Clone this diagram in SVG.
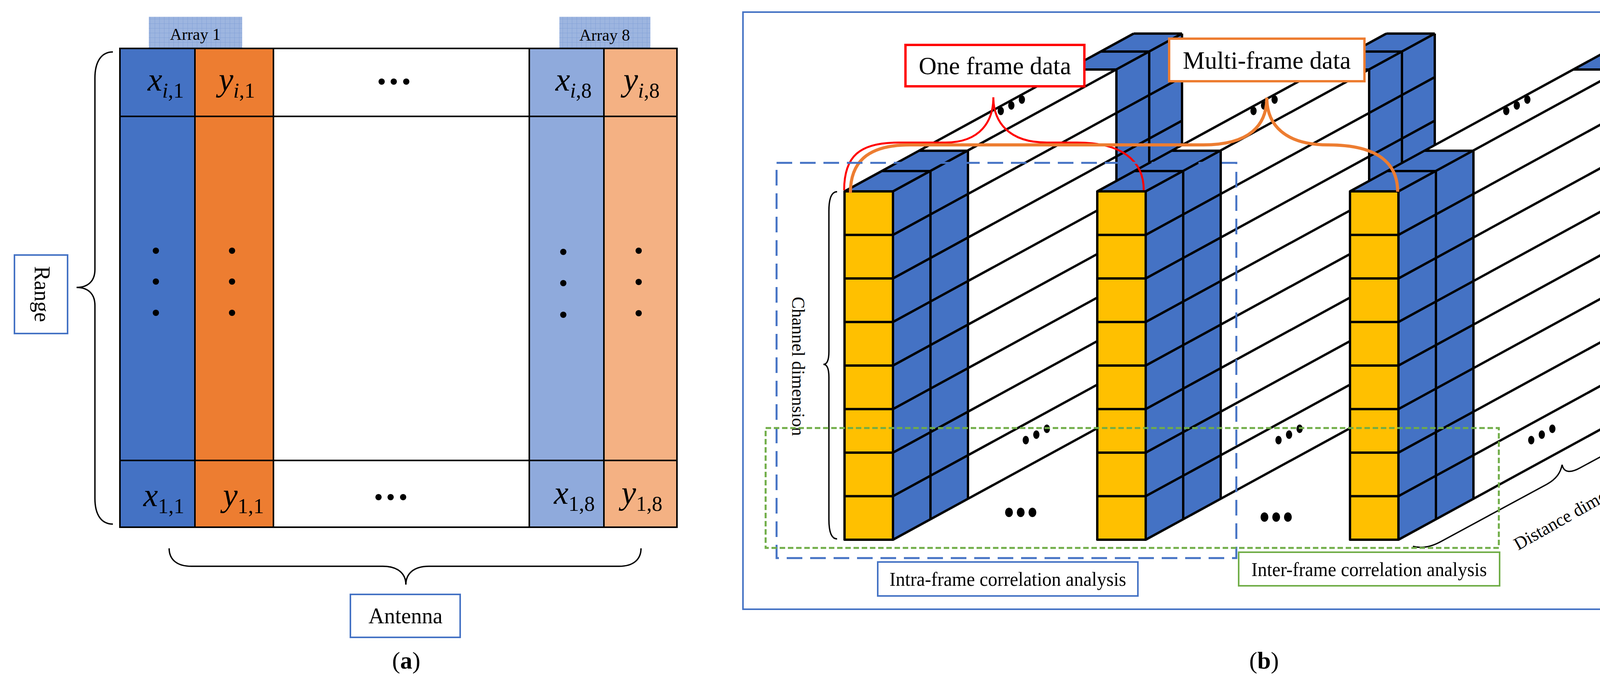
<svg xmlns="http://www.w3.org/2000/svg" xmlns:xlink="http://www.w3.org/1999/xlink" width="4366" height="1754" viewBox="0 0 4366 1754">
<style>
.ser{font-family:"Liberation Serif","Times New Roman",serif;fill:#000}
.grid{fill:none;stroke:#000;stroke-width:4}
.ln{stroke:#000;stroke-width:6;fill:none;stroke-linejoin:round}
.bl{fill:#4472C4}
.wh{fill:#fff}
.ye{fill:#FFC000}
.dot{fill:#000}
.brace{fill:none;stroke:#000;stroke-width:3.5}
.lblbox{fill:#fff;stroke:#4472C4;stroke-width:4}
</style>
<defs>
<pattern id="gridpat" width="12" height="12" patternUnits="userSpaceOnUse">
<rect width="12" height="12" fill="#9DB5E0"/>
<path d="M0 0H12M0 0V12" stroke="#7F9ED6" stroke-width="1.5"/>
</pattern>
<g id="frameShape">
<polygon class="wh" points="124,0 864,-404 864,488 124,892"/>
<polygon class="bl" points="124,0 316,-104 316,788 124,892"/>
<polygon class="bl" points="696,-312 864,-404 864,488 696,580"/>
<polygon class="wh" points="0,0 124,0 864,-404 740,-404"/>
<polygon class="bl" points="0,0 124,0 316,-104 192,-104"/>
<polygon class="bl" points="572,-312 696,-312 864,-404 740,-404"/>
<rect class="ye" x="0" y="0" width="124" height="892"/>
<path class="ln" d="M0,0H124V892H0Z M0,111.5H124 M0,223H124 M0,334.5H124 M0,446H124 M0,557.5H124 M0,669H124 M0,780.5H124
M124,0L864,-404 M124,111.5L864,-292.5 M124,223L864,-181 M124,334.5L864,-69.5 M124,446L864,42 M124,557.5L864,153.5 M124,669L864,265 M124,780.5L864,376.5 M124,892L864,488
M220,-52V840 M316,-104V788 M696,-312V580 M780,-358V534 M864,-404V488
M0,0L740,-404 M96,-52H220 M192,-104H316 M572,-312H696 M656,-358H780 M740,-404H864"/>
<ellipse class="dot" cx="400" cy="-206" rx="8" ry="11"/>
<ellipse class="dot" cx="427" cy="-220" rx="8" ry="11"/>
<ellipse class="dot" cx="454" cy="-235" rx="8" ry="11"/>
<ellipse class="dot" cx="464" cy="637" rx="8" ry="11"/>
<ellipse class="dot" cx="491" cy="623" rx="8" ry="11"/>
<ellipse class="dot" cx="518" cy="608" rx="8" ry="11"/>
</g>
</defs>

<!-- Panel (a) -->
<g id="matrix">
<rect x="307" y="124" width="192" height="1226" fill="#4472C4"/>
<rect x="499" y="124" width="201" height="1226" fill="#ED7D31"/>
<rect x="700" y="124" width="655" height="1226" fill="#fff"/>
<rect x="1355" y="124" width="191" height="1226" fill="#8FAADC"/>
<rect x="1546" y="124" width="187" height="1226" fill="#F4B183"/>
<path class="grid" d="M307,124H1733V1350H307Z M499,124V1350 M700,124V1350 M1355,124V1350 M1546,124V1350 M305,298H1733 M307,1179H1733"/>
</g>
<g id="array1"><rect x="381" y="43" width="239" height="79" fill="url(#gridpat)"/><text class="ser" x="500" y="102" font-size="42" text-anchor="middle">Array 1</text></g>
<g id="array8"><rect x="1432" y="43" width="233" height="79" fill="url(#gridpat)"/><text class="ser" x="1548" y="104" font-size="42" text-anchor="middle">Array 8</text></g>
<g id="cells-text" class="ser">
<text x="378" y="232" font-size="84"><tspan font-style="italic">x</tspan><tspan font-size="54" dy="18"><tspan font-style="italic">i</tspan>,1</tspan></text>
<text x="560" y="232" font-size="84"><tspan font-style="italic">y</tspan><tspan font-size="54" dy="18"><tspan font-style="italic">i</tspan>,1</tspan></text>
<text x="1422" y="232" font-size="84"><tspan font-style="italic">x</tspan><tspan font-size="54" dy="18"><tspan font-style="italic">i</tspan>,8</tspan></text>
<text x="1596" y="232" font-size="84"><tspan font-style="italic">y</tspan><tspan font-size="54" dy="18"><tspan font-style="italic">i</tspan>,8</tspan></text>
<text x="367" y="1296" font-size="84"><tspan font-style="italic">x</tspan><tspan font-size="54" dy="18">1,1</tspan></text>
<text x="571" y="1296" font-size="84"><tspan font-style="italic">y</tspan><tspan font-size="54" dy="18">1,1</tspan></text>
<text x="1418" y="1290" font-size="84"><tspan font-style="italic">x</tspan><tspan font-size="54" dy="18">1,8</tspan></text>
<text x="1591" y="1290" font-size="84"><tspan font-style="italic">y</tspan><tspan font-size="54" dy="18">1,8</tspan></text>
</g>
<g id="dots-a" class="dot">
<circle cx="977" cy="209" r="8"/><circle cx="1008" cy="209" r="8"/><circle cx="1040" cy="209" r="8"/>
<circle cx="969" cy="1273" r="8"/><circle cx="1000" cy="1273" r="8"/><circle cx="1032" cy="1273" r="8"/>
<circle cx="399" cy="642" r="8"/><circle cx="399" cy="721" r="8"/><circle cx="399" cy="801" r="8"/>
<circle cx="594" cy="642" r="8"/><circle cx="594" cy="721" r="8"/><circle cx="594" cy="801" r="8"/>
<circle cx="1442" cy="645" r="8"/><circle cx="1442" cy="725" r="8"/><circle cx="1442" cy="806" r="8"/>
<circle cx="1635" cy="642" r="8"/><circle cx="1635" cy="722" r="8"/><circle cx="1635" cy="802" r="8"/>
</g>
<g id="range-brace"><path class="brace" d="M289,133 C258,133 243,160 243,200 L243,690 C243,720 225,736 196,736 C225,736 243,752 243,782 L243,1276 C243,1316 258,1342 289,1342"/></g>
<g id="range"><rect class="lblbox" x="37" y="653" width="136" height="201"/><text class="ser" transform="translate(89,753) rotate(90)" font-size="56" text-anchor="middle">Range</text></g>
<g id="antenna-brace"><path class="brace" d="M433,1404 C433,1432 452,1450 490,1450 L980,1450 C1020,1450 1039,1470 1039,1497 C1039,1470 1058,1450 1098,1450 L1585,1450 C1622,1450 1641,1432 1641,1404"/></g>
<g id="antenna"><rect class="lblbox" x="897" y="1522" width="281" height="110"/><text class="ser" x="1038" y="1596" font-size="56" text-anchor="middle">Antenna</text></g>
<text class="ser" x="1040" y="1712" font-size="62" text-anchor="middle">(<tspan font-weight="bold">a</tspan>)</text>

<!-- Panel (b) -->
<rect x="1902" y="31" width="2447" height="1529" fill="none" stroke="#4472C4" stroke-width="4"/>
<g id="frame1"><use xlink:href="#frameShape" href="#frameShape" transform="translate(2162,490)"/></g>
<g id="frame2"><use xlink:href="#frameShape" href="#frameShape" transform="translate(2809,490)"/></g>
<g id="frame3"><use xlink:href="#frameShape" href="#frameShape" transform="translate(3456,490)"/></g>
<g id="floor-dots" class="dot">
<ellipse cx="2583" cy="1312" rx="10" ry="12"/><ellipse cx="2613" cy="1312" rx="10" ry="12"/><ellipse cx="2643" cy="1312" rx="10" ry="12"/>
<ellipse cx="3237" cy="1324" rx="10" ry="12"/><ellipse cx="3267" cy="1324" rx="10" ry="12"/><ellipse cx="3297" cy="1324" rx="10" ry="12"/>
</g>
<g id="channel-brace"><path class="brace" d="M2143,491 C2128,491 2122,510 2122,540 L2122,900 C2122,920 2118,933 2108,933 C2118,933 2122,946 2122,966 L2122,1330 C2122,1360 2128,1380 2143,1380"/></g>
<text class="ser" transform="translate(2028,938) rotate(90)" font-size="46" text-anchor="middle">Channel dimension</text>
<g id="distance-brace"><path class="brace" d="M3617,1399 C3640,1405 3665,1400 3690,1386 L3960,1240 C3985,1226 3995,1210 3999,1190 C4003,1210 4020,1212 4045,1198 L4300,1060 C4330,1042 4343,1025 4343,1006"/></g>
<text class="ser" transform="translate(4045,1320) rotate(-29.5)" font-size="46" text-anchor="middle">Distance dimension</text>
<g id="connectors">
<path d="M2161,487 C2161,400 2200,365 2300,365 L2420,365 C2510,365 2543,310 2543,249 C2543,310 2580,365 2680,365 L2757,365 C2870,365 2928,410 2928,487" fill="none" stroke="#FF0000" stroke-width="5"/>
<path d="M2177,494 C2177,420 2215,371 2330,371 L3080,371 C3200,371 3243,320 3243,250 C3243,320 3290,371 3400,371 C3530,371 3578,420 3578,491" fill="none" stroke="#ED7D31" stroke-width="8"/>
</g>
<rect x="1988" y="417" width="1177" height="1012" fill="none" stroke="#4472C4" stroke-width="5" stroke-dasharray="40 20"/>
<rect x="1960" y="1096" width="1877" height="307" fill="none" stroke="#70AD47" stroke-width="5" stroke-dasharray="14 7"/>
<g id="one-frame"><rect x="2318" y="115" width="458" height="106" fill="#fff" stroke="#FF0000" stroke-width="6"/><text class="ser" x="2547" y="190" font-size="64" text-anchor="middle" textLength="390" lengthAdjust="spacingAndGlyphs">One frame data</text></g>
<g id="multi-frame"><rect x="2993" y="99" width="500" height="109" fill="#fff" stroke="#ED7D31" stroke-width="6"/><text class="ser" x="3243" y="176" font-size="64" text-anchor="middle" textLength="430" lengthAdjust="spacingAndGlyphs">Multi-frame data</text></g>
<g id="intra"><rect x="2247" y="1439" width="666" height="87" fill="#fff" stroke="#4472C4" stroke-width="4"/><text class="ser" x="2580" y="1500" font-size="50" text-anchor="middle" textLength="606" lengthAdjust="spacingAndGlyphs">Intra-frame correlation analysis</text></g>
<g id="inter"><rect x="3171" y="1414" width="668" height="86" fill="#fff" stroke="#70AD47" stroke-width="4"/><text class="ser" x="3505" y="1475" font-size="50" text-anchor="middle" textLength="603" lengthAdjust="spacingAndGlyphs">Inter-frame correlation analysis</text></g>
<text class="ser" x="3236" y="1712" font-size="62" text-anchor="middle">(<tspan font-weight="bold">b</tspan>)</text>
</svg>
